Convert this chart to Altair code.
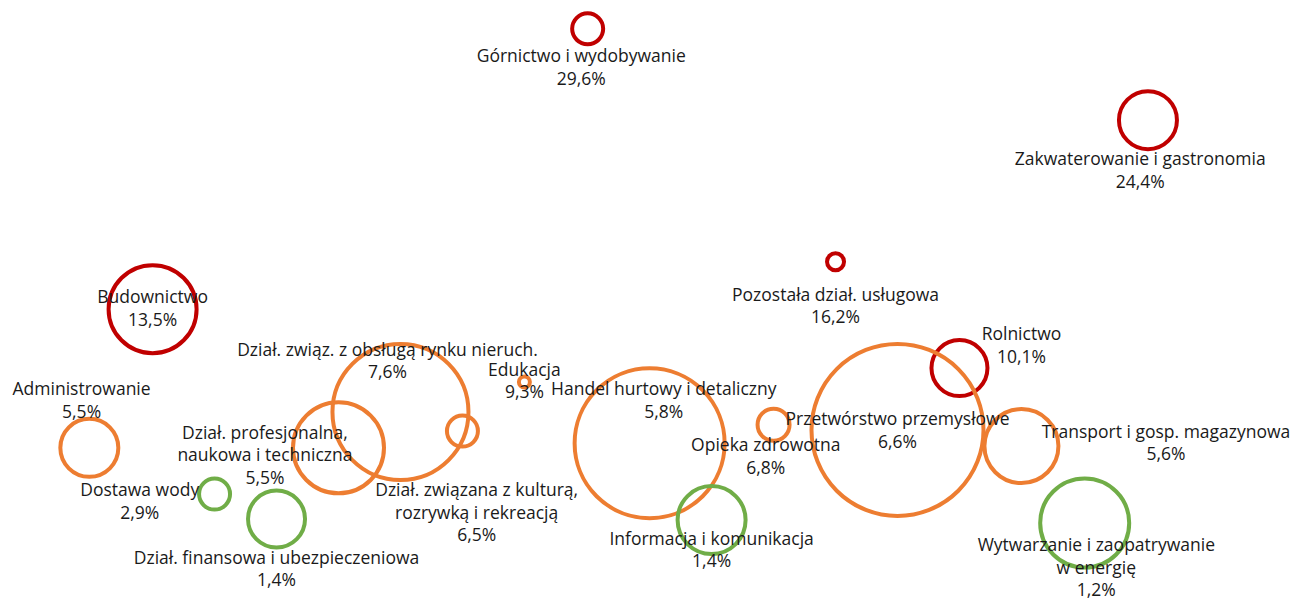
import altair as alt
import pandas as pd

# Sector names (labels) and label lines
nazwy = [
    "Górnictwo i wydobywanie", "Zakwaterowanie i gastronomia", "Pozostała dział. usługowa",
    "Budownictwo", "Rolnictwo", "Administrowanie", "Dział. związ. z obsługą rynku nieruch.",
    "Dział. profesjonalna,\nnaukowa i techniczna", "Edukacja",
    "Dział. związana z kulturą,\nrozrywką i rekreacją", "Handel hurtowy i detaliczny",
    "Opieka zdrowotna", "Przetwórstwo przemysłowe", "Transport i gosp. magazynowa",
    "Dostawa wody", "Dział. finansowa i ubezpieczeniowa", "Informacja i komunikacja",
    "Wytwarzanie i zaopatrywanie\nw energię",
]
udzial = ["29,6%", "24,4%", "16,2%", "13,5%", "10,1%", "5,5%", "7,6%", "5,5%", "9,3%",
          "6,5%", "5,8%", "6,8%", "6,6%", "5,6%", "2,9%", "1,4%", "1,4%", "1,2%"]
grupa = ["wysoki", "wysoki", "wysoki", "wysoki", "wysoki", "średni", "średni", "średni",
         "średni", "średni", "średni", "średni", "średni", "średni", "niski", "niski",
         "niski", "niski"]
# bubble positions (abstract 0-100 scale) and bubble size
x_val = [44.9, 88.3, 64.1, 11.2, 73.7, 6.3, 30.4, 25.6, 40.0, 35.2, 49.7, 59.3, 68.9, 78.5,
         16.0, 20.8, 54.5, 83.4]
y_val = [96.4, 80.6, 56.1, 47.9, 37.7, 23.9, 30.1, 23.9, 35.3, 26.8, 24.7, 27.9, 27.0, 24.2,
         15.9, 11.6, 11.4, 10.9]
wielkosc = [961, 3364, 289, 7744, 3136, 3364, 18496, 8281, 121, 961, 22500, 1024, 29584,
            5476, 961, 3249, 4624, 7921]
# label positions (first line)
x_lab = [44.4, 87.7, 64.1, 11.2, 78.5, 5.7, 29.4, 19.9, 40.0, 36.3, 50.8, 58.7, 68.9, 89.7,
         10.2, 20.8, 54.5, 84.3]
y_lab = [91.5, 73.7, 50.2, 49.8, 43.4, 33.9, 40.7, 26.3, 37.2, 16.4, 33.9, 24.2, 28.7, 26.5,
         16.4, 4.7, 8.0, 6.9]

df = pd.DataFrame({
    "nazwa": nazwy, "udzial": udzial, "grupa": grupa,
    "x": x_val, "y": y_val, "w": wielkosc, "xl": x_lab, "yl": y_lab,
})
df["etykieta"] = df["nazwa"] + "\n" + df["udzial"]

xs = alt.Scale(domain=[0, 100], nice=False, zero=False)
ys = alt.Scale(domain=[0, 100], nice=False, zero=False)

bubbles = alt.Chart(df).mark_point(
    shape="circle", filled=False, strokeWidth=4, opacity=1
).encode(
    x=alt.X("x:Q", scale=xs, axis=None),
    y=alt.Y("y:Q", scale=ys, axis=None),
    size=alt.Size("w:Q", scale=alt.Scale(domain=[0, 30000], range=[0, 30000]), legend=None),
    color=alt.Color("grupa:N", scale=alt.Scale(
        domain=["wysoki", "średni", "niski"], range=["#C00000", "#ED7D31", "#70AD47"]), legend=None),
)

labels = alt.Chart(df).mark_text(
    font="Open Sans", fontSize=17.5, lineBreak="\n", lineHeight=22.5,
    align="center", baseline="middle", color="#1a1a1a"
).encode(
    x=alt.X("xl:Q", scale=xs, axis=None),
    y=alt.Y("yl:Q", scale=ys, axis=None),
    text="etykieta:N",
)

chart = alt.layer(bubbles, labels).properties(
    width=1291, height=578,
    autosize=alt.AutoSizeParams(type="none"),
    padding={"left": 0, "top": 0, "right": 0, "bottom": 13},
).configure_view(stroke=None)

chart.save("out.html", embed_options={"renderer": "svg", "actions": False})
